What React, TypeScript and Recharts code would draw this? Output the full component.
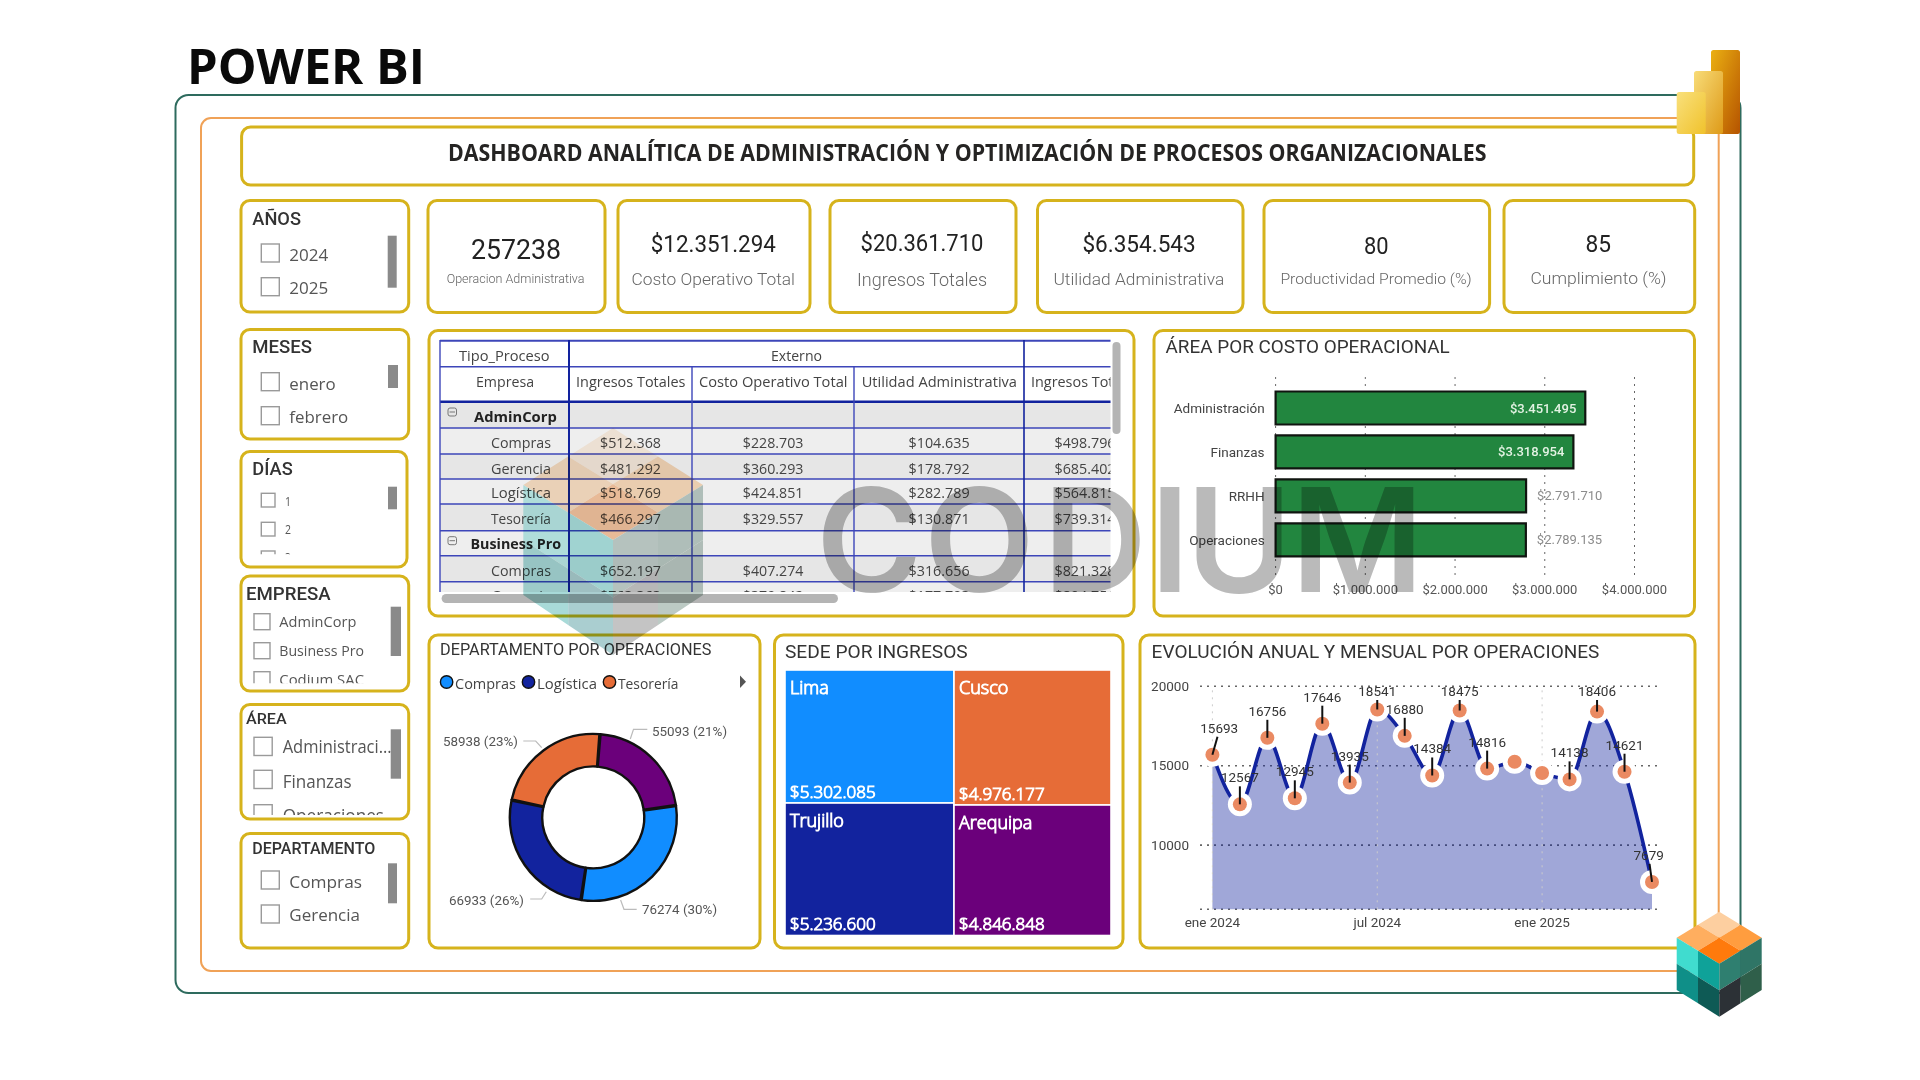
import React from 'react';
import {
  BarChart, Bar, XAxis, YAxis, CartesianGrid, LabelList, PieChart, Pie, Cell, Treemap,
  ComposedChart, Area, Line, ReferenceLine,
} from 'recharts';

// ---------- data ----------
const areaNames = ['Administración', 'Finanzas', 'RRHH', 'Operaciones'];
const areaCosts = [3451495, 3318954, 2791710, 2789135];
const costTicks = [0, 1000000, 2000000, 3000000, 4000000];

const deptNames = ['Gerencia', 'Compras', 'Logística', 'Tesorería'];
const deptOps = [55093, 76274, 66933, 58938];
const deptColors = ['#6B007B', '#118DFF', '#12239E', '#E66C37'];

const sedeNames = ['Lima', 'Trujillo', 'Cusco', 'Arequipa'];
const sedeIngresos = [5302085, 5236600, 4976177, 4846848];
const sedeColors = ['#118DFF', '#12239E', '#E66C37', '#6B007B'];

const months = ['ene 2024', 'feb 2024', 'mar 2024', 'abr 2024', 'may 2024', 'jun 2024', 'jul 2024', 'ago 2024', 'sep 2024', 'oct 2024', 'nov 2024', 'dic 2024', 'ene 2025', 'feb 2025', 'mar 2025', 'abr 2025', 'may 2025'];
const monthOps = [15693, 12567, 16756, 12945, 17646, 13935, 18541, 16880, 14384, 18475, 14816, 15250, 14540, 14138, 18406, 14621, 7679];
const unlabeledMonths = [11, 12];
const monthTicksShown = ['ene 2024', 'jul 2024', 'ene 2025'];

const matrixRowLabels = ['AdminCorp', 'Compras', 'Gerencia', 'Logística', 'Tesorería', 'Business Pro', 'Compras', 'Gerencia'];
const matrixIngresos = ['', '$512.368', '$481.292', '$518.769', '$466.297', '', '$652.197', '$763.363'];
const matrixCosto = ['', '$228.703', '$360.293', '$424.851', '$329.557', '', '$407.274', '$379.842'];
const matrixUtilidad = ['', '$104.635', '$178.792', '$282.789', '$130.871', '', '$316.656', '$177.703'];
const matrixIngresosInterno = ['', '$498.796', '$685.402', '$564.815', '$739.314', '', '$821.328', '$894.751'];

const kpiValues = ['257238', '$12.351.294', '$20.361.710', '$6.354.543', '80', '85'];
const kpiLabels = ['Operacion Administrativa', 'Costo Operativo Total', 'Ingresos Totales', 'Utilidad Administrativa', 'Productividad Promedio (%)', 'Cumplimiento (%)'];

// ---------- layout helpers ----------
const GOLD = '#D6B31C';
const HEAD = 'Roboto, sans-serif';
const BODY = '"Open Sans", sans-serif';
const money = (v: number) => '$' + String(v).replace(/\B(?=(\d{3})+(?!\d))/g, '.');

const T = ({ a, b, y, fs, ff = HEAD, fw = 400, fill = '#333', children }: any) => (
  <text x={a} y={ff === BODY ? y - 0.5 : y} dominantBaseline="central" fontSize={fs} fontFamily={ff} fontWeight={fw} fill={fill}
    textLength={b - a} lengthAdjust="spacingAndGlyphs">{children}</text>
);
const Box = ({ l, t, r, b }: any) => (
  <rect x={l} y={t} width={r - l} height={b - t} rx={9} fill="#fff" stroke={GOLD} strokeWidth={3} />
);
const Check = ({ x, y, s }: any) => <rect x={x} y={y} width={s} height={s} fill="#fff" stroke="#9a9a9a" strokeWidth={1.4} />;
const Thumb = ({ l, r, t, b }: any) => <rect x={l} y={t} width={r - l} height={b - t} fill="#8A8A8A" />;

const kpiBoxes = [[428, 605], [618, 810], [830, 1016], [1037.5, 1243], [1264, 1489.6], [1504, 1694.7]];
const kpiValuePos = [[471, 561, 249, 28], [650.8, 775.8, 244, 24], [860.5, 983.5, 243.3, 24], [1082.4, 1195.7, 244.3, 24], [1364, 1388.6, 245.7, 24], [1585.5, 1611, 244, 24]];
const kpiLabelPos = [[446.7, 584.5, 279.3, 12], [631.4, 795, 278.7, 17], [857, 987, 279.3, 18], [1053.4, 1224.3, 278.7, 17], [1280.4, 1471.7, 279.3, 15], [1530.4, 1666.6, 278.7, 16]];

const rowTops = [402, 428, 454, 479, 504, 530.7, 555.7, 581.7];
const rowEnds = [428, 454, 479, 504, 530.7, 555.7, 581.7, 610];
const rowText = [416.7, 442.7, 468.7, 493, 519, 544.3, 570.7, 596];
const rowFill = ['#E6E6E6', '#EEEEEE', '#E6E6E6', '#EEEEEE', '#E6E6E6', '#EEEEEE', '#E6E6E6', '#EEEEEE'];
const LINE_BLUE = '#3D46B9';
const NAVY = '#12239E';

const Matrix = () => (
  <g>
    <defs><clipPath id="mclip"><rect x={439} y={339} width={671.5} height={253} /></clipPath></defs>
    <g clipPath="url(#mclip)">
      {rowTops.map((t, i) => <rect key={i} x={440} y={t} width={680} height={rowEnds[i] - t} fill={rowFill[i]} />)}
      <T a={459} b={549.5} y={355.7} fs={14} ff={BODY} fill="#444">Tipo_Proceso</T>
      <T a={771} b={822} y={355.7} fs={14} ff={BODY} fill="#444">Externo</T>
      <T a={476} b={534} y={381.7} fs={14} ff={BODY} fill="#444">Empresa</T>
      <T a={576} b={685.4} y={381.7} fs={14} ff={BODY} fill="#444">Ingresos Totales</T>
      <T a={699} b={847.5} y={381.7} fs={14} ff={BODY} fill="#444">Costo Operativo Total</T>
      <T a={861.7} b={1017} y={381.7} fs={14} ff={BODY} fill="#444">Utilidad Administrativa</T>
      <T a={1031} b={1140} y={381.7} fs={14} ff={BODY} fill="#444">Ingresos Totales</T>
      {matrixRowLabels.map((name, i) => {
        const bold = i === 0 || i === 5;
        const a = i === 0 ? 474 : i === 5 ? 470.5 : 491;
        const b = i === 0 ? 556.8 : i === 5 ? 561 : 551;
        return <T key={i} a={a} b={b} y={rowText[i]} fs={14} ff={BODY} fw={bold ? 700 : 400} fill={bold ? '#222' : '#444'}>{name}</T>;
      })}
      {matrixIngresos.map((v, i) => v && <T key={i} a={600} b={661} y={rowText[i]} fs={14} ff={BODY} fill="#444">{v}</T>)}
      {matrixCosto.map((v, i) => v && <T key={i} a={742.8} b={803.4} y={rowText[i]} fs={14} ff={BODY} fill="#444">{v}</T>)}
      {matrixUtilidad.map((v, i) => v && <T key={i} a={908.5} b={969.6} y={rowText[i]} fs={14} ff={BODY} fill="#444">{v}</T>)}
      {matrixIngresosInterno.map((v, i) => v && <T key={i} a={1054.5} b={1115.5} y={rowText[i]} fs={14} ff={BODY} fill="#444">{v}</T>)}
      {[366.7, 428, 454, 479, 504, 530.7, 555.7, 581.7].map((y) => <line key={y} x1={440} x2={1111} y1={y} y2={y} stroke={LINE_BLUE} strokeWidth={1.4} />)}
      <line x1={440} x2={1111} y1={340.7} y2={340.7} stroke={LINE_BLUE} strokeWidth={2} />
      <line x1={440} x2={1111} y1={401.7} y2={401.7} stroke={NAVY} strokeWidth={2.4} />
      <line x1={440} x2={440} y1={340} y2={592} stroke={LINE_BLUE} strokeWidth={1.4} />
      <line x1={569} x2={569} y1={340} y2={592} stroke={NAVY} strokeWidth={2} />
      <line x1={692} x2={692} y1={366.7} y2={592} stroke={LINE_BLUE} strokeWidth={1.4} />
      <line x1={854} x2={854} y1={366.7} y2={592} stroke={LINE_BLUE} strokeWidth={1.4} />
      <line x1={1024} x2={1024} y1={340} y2={592} stroke={NAVY} strokeWidth={1.6} />
      {[412, 540.7].map((y) => (
        <g key={y} stroke="#777" strokeWidth={1} fill="none">
          <rect x={448} y={y - 4} width={8.5} height={8} rx={2} />
          <line x1={449.5} x2={455} y1={y} y2={y} />
        </g>
      ))}
    </g>
    <rect x={1112.5} y={342} width={8} height={92} rx={4} fill="#B4B4B4" />
    <rect x={441.6} y={594} width={396.4} height={9} rx={4.5} fill="#B4B4B4" />
  </g>
);

const Background = () => (
  <svg width={1920} height={1080} style={{ position: 'absolute', left: 0, top: 0 }}>
    <rect x={0} y={0} width={1920} height={1080} fill="#fff" />
    <T a={187} b={425} y={65} fs={49} ff={BODY} fw={700} fill="#0a0a0a">POWER BI</T>
    <rect x={175.5} y={95} width={1565} height={898} rx={13} fill="none" stroke="#2E6B5E" strokeWidth={2} />
    <rect x={201} y={118} width={1517.7} height={853} rx={10} fill="none" stroke="#F0A257" strokeWidth={2} />

    <Box l={241.6} t={127} r={1693.7} b={185} />
    <T a={448} b={1486.5} y={153} fs={22.5} ff={BODY} fw={700} fill="#252423">DASHBOARD ANALÍTICA DE ADMINISTRACIÓN Y OPTIMIZACIÓN DE PROCESOS ORGANIZACIONALES</T>

    {kpiBoxes.map(([l, r], i) => <Box key={i} l={l} r={r} t={200.5} b={312.5} />)}
    {kpiValues.map((v, i) => {
      const [a, b, y, fs] = kpiValuePos[i];
      return <T key={i} a={a} b={b} y={y} fs={fs} fw={400} fill="#222">{v}</T>;
    })}
    {kpiLabels.map((v, i) => {
      const [a, b, y, fs] = kpiLabelPos[i];
      return <T key={i} a={a} b={b} y={y} fs={fs} fw={300} fill="#666">{v}</T>;
    })}

    {/* slicers */}
    <Box l={241} t={200.5} r={408.7} b={312} />
    <T a={252.3} b={301} y={218.3} fs={18} fw={500}>AÑOS</T>
    <Check x={261.3} y={244} s={18} /><Check x={261.3} y={277.7} s={18} />
    <T a={289.3} b={328.3} y={255} fs={17} ff={BODY} fill="#555">2024</T>
    <T a={289.3} b={328.3} y={288.3} fs={17} ff={BODY} fill="#555">2025</T>
    <Thumb l={387.7} r={396.7} t={235.7} b={287.7} />

    <Box l={241} t={329.5} r={408.7} b={439} />
    <T a={252.3} b={312} y={346.7} fs={18} fw={500}>MESES</T>
    <Check x={261.3} y={372.7} s={18} /><Check x={261.3} y={406.7} s={18} />
    <T a={289.3} b={335.7} y={384} fs={17} ff={BODY} fill="#555">enero</T>
    <T a={289.3} b={348.3} y={416.7} fs={17} ff={BODY} fill="#555">febrero</T>
    <Thumb l={388} r={398} t={365} b={388} />

    <Box l={241} t={451.5} r={407} b={567} />
    <T a={252.3} b={292.7} y={468} fs={18} fw={500}>DÍAS</T>
    <Check x={261.3} y={493.3} s={13.7} /><Check x={261.3} y={522.3} s={13.7} />
    <T a={285} b={291} y={502.3} fs={12} ff={BODY} fill="#555">1</T>
    <T a={285} b={291} y={530} fs={12} ff={BODY} fill="#555">2</T>
    <defs><clipPath id="dclip"><rect x={255} y={480} width={130} height={74.3} /></clipPath></defs>
    <g clipPath="url(#dclip)">
      <Check x={261.3} y={551} s={13.7} />
      <T a={285} b={291} y={557.5} fs={12} ff={BODY} fill="#555">3</T>
    </g>
    <Thumb l={388} r={397} t={486.7} b={509.3} />

    <Box l={241} t={576} r={408.7} b={691} />
    <T a={246} b={330.7} y={593} fs={19} fw={500}>EMPRESA</T>
    <Check x={254} y={613.7} s={16} /><Check x={254} y={642.7} s={16} />
    <T a={279.3} b={356.3} y={622.3} fs={14} ff={BODY} fill="#555">AdminCorp</T>
    <T a={279.3} b={364} y={651} fs={14} ff={BODY} fill="#555">Business Pro</T>
    <defs><clipPath id="eclip"><rect x={250} y={665} width={130} height={18.3} /></clipPath></defs>
    <g clipPath="url(#eclip)">
      <Check x={254} y={671.7} s={16} />
      <T a={279.3} b={364} y={680} fs={14} ff={BODY} fill="#555">Codium SAC</T>
    </g>
    <Thumb l={390.7} r={401} t={606.7} b={656} />

    <Box l={241} t={704.5} r={408.7} b={819} />
    <T a={246} b={286.7} y={719.3} fs={15} fw={500}>ÁREA</T>
    <Check x={254} y={737.3} s={18.2} /><Check x={254} y={770.3} s={18.2} />
    <T a={282.7} b={391.7} y={746.7} fs={18} ff={BODY} fill="#555">Administraci...</T>
    <T a={282.7} b={351.7} y={781.3} fs={18} ff={BODY} fill="#555">Finanzas</T>
    <defs><clipPath id="aclip"><rect x={250} y={795} width={140} height={20} /></clipPath></defs>
    <g clipPath="url(#aclip)">
      <Check x={254} y={804.7} s={18.2} />
      <T a={282.7} b={384} y={815} fs={18} ff={BODY} fill="#555">Operaciones</T>
    </g>
    <Thumb l={390.7} r={401} t={729.3} b={778.7} />

    <Box l={241} t={833.5} r={408.7} b={948} />
    <T a={252.3} b={375.3} y={848.3} fs={16} fw={500}>DEPARTAMENTO</T>
    <Check x={261.3} y={871} s={18} /><Check x={261.3} y={905} s={18} />
    <T a={289.3} b={362} y={882.3} fs={17} ff={BODY} fill="#555">Compras</T>
    <T a={289.3} b={360} y={915} fs={17} ff={BODY} fill="#555">Gerencia</T>
    <Thumb l={388} r={397} t={863.3} b={903.3} />

    {/* visual panels */}
    <Box l={429} t={330.5} r={1134} b={616} />
    <Matrix />
    <Box l={1154} t={330.5} r={1694.5} b={616} />
    <T a={1165.5} b={1449.8} y={346.7} fs={18.7}>ÁREA POR COSTO OPERACIONAL</T>
    <Box l={429} t={635} r={760} b={948} />
    <T a={440} b={711.5} y={649} fs={16.4}>DEPARTAMENTO POR OPERACIONES</T>
    <Box l={774.5} t={635} r={1123} b={948} />
    <T a={785} b={967.7} y={652} fs={18.7}>SEDE POR INGRESOS</T>
    <Box l={1140} t={635} r={1695} b={948} />
    <T a={1151.6} b={1599.4} y={652} fs={18.5}>EVOLUCIÓN ANUAL Y MENSUAL POR OPERACIONES</T>

    {/* legend of the donut */}
    <circle cx={446.6} cy={682} r={6.2} fill="#118DFF" stroke="#111" strokeWidth={1.4} />
    <T a={455} b={516} y={684} fs={14.5} ff={BODY} fill="#444">Compras</T>
    <circle cx={528.5} cy={682} r={6.2} fill="#12239E" stroke="#111" strokeWidth={1.4} />
    <T a={537} b={597} y={684} fs={14.5} ff={BODY} fill="#444">Logística</T>
    <circle cx={609.5} cy={682} r={6.2} fill="#E66C37" stroke="#111" strokeWidth={1.4} />
    <T a={618} b={678.5} y={684} fs={14.5} ff={BODY} fill="#444">Tesorería</T>
    <polygon points="740,675.5 746,681.7 740,688" fill="#555" />
  </svg>
);

// ---------- charts ----------
const costData = areaNames.map((area, i) => ({ area, cost: areaCosts[i] }));
const renderCostLabel = (p: any) => {
  const right = p.x + p.width;
  const inside = p.value > 3000000;
  return (
    <text x={inside ? right - 9 : right + 11} y={p.y + p.height / 2} dominantBaseline="central"
      textAnchor={inside ? 'end' : 'start'} fontSize={13} fontFamily={HEAD} fontWeight={inside ? 500 : 400}
      fill={inside ? '#E4F3E4' : '#8c8c8c'}>{money(p.value)}</text>
  );
};
const CostChart = () => (
  <div style={{ position: 'absolute', left: 1156, top: 360 }}>
    <BarChart width={530} height={240} data={costData} layout="vertical" margin={{ top: 17, right: 51.5, bottom: 0, left: 0 }}>
      <CartesianGrid horizontal={false} stroke="#666" strokeDasharray="2 5" />
      <XAxis type="number" domain={[0, 4000000]} ticks={costTicks} tickFormatter={money} height={23.3} axisLine={false} tickLine={false} tickSize={0} tickMargin={8.5} interval={0}
        tick={{ fontSize: 13, fontFamily: HEAD, fill: '#555' }} />
      <YAxis type="category" dataKey="area" width={119.6} axisLine={false} tickLine={false} tickSize={0} tickMargin={11} padding={{ top: 9.5, bottom: 14.5 }}
        tick={{ fontSize: 13.5, fontFamily: HEAD, fill: '#444' }} />
      <Bar dataKey="cost" barSize={33} fill="#22863F" stroke="#101510" strokeWidth={2.2} isAnimationActive={false}>
        <LabelList dataKey="cost" content={renderCostLabel} />
      </Bar>
    </BarChart>
  </div>
);

const deptData = deptNames.map((name, i) => ({ name, ops: deptOps[i] }));
const deptTotal = deptOps.reduce((a, b) => a + b, 0);
const leaderPaths = [
  { pts: [[37, -78.4], [40.2, -88.1], [54, -88.1]], a: 58.7, dy: -85.7, anchor: 'start' },
  { pts: [[27.3, 82.6], [30.7, 91.9], [43.4, 91.9]], a: 48.7, dy: 91.9, anchor: 'start' },
  { pts: [[-47, 74.3], [-51.6, 81.6], [-63.1, 81.6]], a: -69.3, dy: 82.6, anchor: 'end' },
  { pts: [[-51.6, -69.7], [-57.6, -76.4], [-70, -76.4]], a: -75.3, dy: -76.4, anchor: 'end' },
];
const renderDeptLabel = (p: any) => {
  const g = leaderPaths[p.index];
  const cx = 163.3, cy = 117.4;
  const pct = Math.round((deptOps[p.index] / deptTotal) * 100);
  return (
    <g key={p.index}>
      <polyline points={g.pts.map(([x, y]) => `${cx + x},${cy + y}`).join(' ')} fill="none" stroke="#bbb" strokeWidth={1.2} />
      <text x={cx + g.a} y={cy + g.dy} dominantBaseline="central" textAnchor={g.anchor as any} fontSize={13.4} fontFamily={HEAD} fill="#555">
        {deptOps[p.index]} ({pct}%)
      </text>
    </g>
  );
};
const DeptChart = () => (
  <div style={{ position: 'absolute', left: 430, top: 700 }}>
    <PieChart width={328} height={240} margin={{ top: 0, right: 0, bottom: 0, left: 0 }}>
      <Pie data={deptData} dataKey="ops" nameKey="name" cx={163.3} cy={117.4} innerRadius={51} outerRadius={83.5} startAngle={85} endAngle={-275}
        paddingAngle={0.8} stroke="#111" strokeWidth={2.4} isAnimationActive={false} label={renderDeptLabel} labelLine={false}>
        {deptData.map((d, i) => <Cell key={d.name} fill={deptColors[i]} />)}
      </Pie>
    </PieChart>
  </div>
);

const sedeData = sedeNames.map((name, i) => ({ name, size: sedeIngresos[i] }));
const SedeCell = (p: any) => {
  const { x, y, width, height, name, value, depth } = p;
  if (depth !== 1) return <g />;
  const color = sedeColors[sedeNames.indexOf(name)];
  return (
    <g>
      <rect x={x} y={y} width={width} height={height} fill={color} stroke="#fff" strokeWidth={1.6} />
      <text x={x + 5} y={y + 17} dominantBaseline="central" fontSize={18} fontFamily={BODY} fontWeight={300} fill="#F6F6F6">{name}</text>
      <text x={x + 5} y={y + height - 12} dominantBaseline="central" fontSize={17} fontFamily={BODY} fontWeight={300} fill="#F6F6F6">{money(value)}</text>
    </g>
  );
};
const SedeChart = () => (
  <div style={{ position: 'absolute', left: 785, top: 670.2 }}>
    <Treemap width={326} height={265.5} data={sedeData} dataKey="size" nameKey="name" aspectRatio={1} stroke="#fff" isAnimationActive={false} content={<SedeCell />} />
  </div>
);

const opsData = months.map((month, i) => ({ month, ops: monthOps[i] }));
const renderOpsDot = (p: any) => (
  <g key={p.index}>
    <circle cx={p.cx} cy={p.cy} r={12} fill="#fff" />
    <circle cx={p.cx} cy={p.cy} r={7} fill="#EA8A62" />
  </g>
);
const renderOpsLabel = (p: any) => {
  if (unlabeledMonths.includes(p.index)) return <g key={p.index} />;
  const last = months.length - 1;
  const dx = p.index === 0 ? 6.8 : p.index === last ? -3.3 : 0;
  const ly = Math.max(p.cy - 27, 21);
  return (
    <g key={p.index}>
      <line x1={p.cx + dx * 0.75} y1={ly + 9} x2={p.cx} y2={p.cy} stroke="#111" strokeWidth={2} />
      <text x={p.cx + dx} y={ly} textAnchor="middle" dominantBaseline="central" fontSize={13.5} fontFamily={HEAD} fill="#333">{monthOps[p.index]}</text>
    </g>
  );
};
const OpsChart = () => (
  <div style={{ position: 'absolute', left: 1145, top: 670 }}>
    <ComposedChart width={545} height={270} data={opsData} margin={{ top: 16.3, right: 29.4, bottom: 0, left: 0 }}>
      <CartesianGrid vertical={false} stroke="#666" strokeDasharray="2 5" strokeWidth={1.6} />
      {monthTicksShown.map((m) => <ReferenceLine key={m} x={m} stroke="#ccc" strokeDasharray="2 5" />)}
      <XAxis dataKey="month" scale="point" interval={5} height={30.7} padding={{ left: 12.4, right: 8.6 }} axisLine={false} tickLine={false} tickSize={0} tickMargin={8.5}
        tick={{ fontSize: 13.5, fontFamily: HEAD, fill: '#444' }} />
      <YAxis type="number" domain={[5956, 20000]} ticks={[10000, 15000, 20000]} width={55} axisLine={false} tickLine={false} tickSize={0} tickMargin={11}
        tick={{ fontSize: 13.5, fontFamily: HEAD, fill: '#444' }} />
      <Area dataKey="ops" type="monotone" fill="#12239E" fillOpacity={0.4} stroke="none" dot={false} activeDot={false} isAnimationActive={false} />
      <Line dataKey="ops" type="monotone" stroke="#12239E" strokeWidth={3.6} dot={renderOpsDot} activeDot={false} isAnimationActive={false} />
      <Line dataKey="ops" type="monotone" stroke="none" dot={renderOpsLabel} activeDot={false} isAnimationActive={false} />
    </ComposedChart>
  </div>
);

// ---------- decoration ----------
const mid = (p: number[], q: number[]) => [(p[0] + q[0]) / 2, (p[1] + q[1]) / 2];
const Cube = ({ T: t, L, R, F, LB, RB, B, colors }: any) => {
  const poly = (pts: number[][], c: string, k: number) => <polygon key={k} points={pts.map((p) => p.join(',')).join(' ')} fill={c} />;
  const tl = mid(t, L), tr = mid(t, R), lf = mid(L, F), rf = mid(R, F), c = mid(t, F);
  const lm = mid(L, LB), fm = mid(F, B), rm = mid(R, RB), lb = mid(LB, B), rb = mid(RB, B);
  const cl1 = mid(L, F), cl2 = mid(LB, B), cl = mid(cl1, cl2);
  const cr1 = mid(R, F), cr2 = mid(RB, B), cr = mid(cr1, cr2);
  return (
    <g>
      {poly([t, tr, c, tl], colors[0], 0)}
      {poly([tl, c, lf, L], colors[1], 1)}
      {poly([tr, R, rf, c], colors[2], 2)}
      {poly([c, rf, F, lf], colors[3], 3)}
      {poly([L, lf, cl, lm], colors[4], 4)}
      {poly([lf, F, fm, cl], colors[5], 5)}
      {poly([lm, cl, lb, LB], colors[6], 6)}
      {poly([cl, fm, B, lb], colors[7], 7)}
      {poly([F, rf, cr, fm], colors[8], 8)}
      {poly([rf, R, rm, cr], colors[9], 9)}
      {poly([fm, cr, rb, B], colors[10], 10)}
      {poly([cr, rm, RB, rb], colors[11], 11)}
    </g>
  );
};
const Watermark = () => (
  <svg width={1920} height={1080} style={{ position: 'absolute', left: 0, top: 0, mixBlendMode: 'multiply', pointerEvents: 'none' }}>
    <Cube T={[613, 428]} L={[523.3, 485]} R={[703, 485]} F={[613, 540]} LB={[523.3, 595]} RB={[703, 595]} B={[613, 655]}
      colors={['#FDF0E2', '#FBE0C4', '#FBDCBC', '#F9C8A2', '#BCEDEA', '#ACE2E0', '#A8DAD8', '#AACED0', '#C2D0CC', '#BCCCC6', '#C4C4C4', '#BCCAC4']} />
    <text x="816 924 1043 1150 1186 1291" y={591.5} fontSize={144} fontWeight={600} fontFamily="Inter, sans-serif" fill="#BABABA">CODIUM</text>
  </svg>
);
const Logos = () => (
  <svg width={1920} height={1080} style={{ position: 'absolute', left: 0, top: 0, pointerEvents: 'none' }}>
    <defs>
      <linearGradient id="pb1" x1="0" y1="0" x2="1" y2="1"><stop offset="0" stopColor="#EBB012" /><stop offset="1" stopColor="#B55300" /></linearGradient>
      <linearGradient id="pb2" x1="0" y1="0" x2="1" y2="1"><stop offset="0" stopColor="#F8DC78" /><stop offset="1" stopColor="#DE9A18" /></linearGradient>
      <linearGradient id="pb3" x1="0" y1="0" x2="1" y2="1"><stop offset="0" stopColor="#F9E07C" /><stop offset="1" stopColor="#F0C22C" /></linearGradient>
    </defs>
    <rect x={1711} y={50} width={29} height={84} rx={2.5} fill="url(#pb1)" />
    <rect x={1694} y={71} width={29} height={63} rx={2.5} fill="url(#pb2)" />
    <rect x={1676.7} y={92} width={29} height={42} rx={2.5} fill="url(#pb3)" />
    <Cube T={[1719.3, 911.7]} L={[1676.7, 937.7]} R={[1761.7, 937.7]} F={[1719.3, 963.7]} LB={[1676.7, 990]} RB={[1761.7, 990]} B={[1719.3, 1016.7]}
      colors={['#FDCFA0', '#FFAE5F', '#FF9D3F', '#FF7A0C', '#40DCCF', '#0FA299', '#0F8F88', '#0E5A55', '#2F7F70', '#2F7566', '#2C3136', '#2F5F4A']} />
  </svg>
);

export default function App() {
  return (
    <div style={{ position: 'absolute', left: 0, top: 0, width: 1920, height: 1080, background: '#fff', overflow: 'hidden' }}>
      <Background />
      <CostChart />
      <DeptChart />
      <SedeChart />
      <OpsChart />
      <Watermark />
      <Logos />
    </div>
  );
}
